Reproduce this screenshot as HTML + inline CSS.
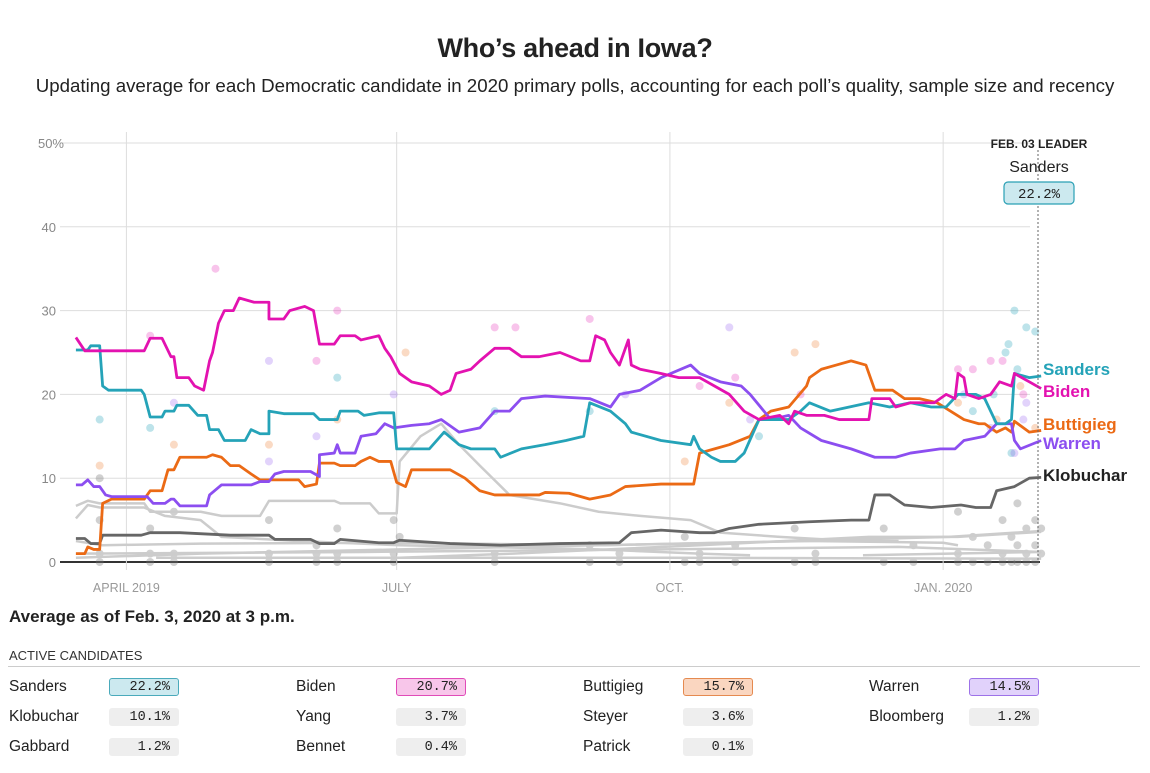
<!DOCTYPE html>
<html><head><meta charset="utf-8"><style>
body{margin:0;background:#fff;width:1150px;height:773px;overflow:hidden;font-family:"Liberation Sans",sans-serif;color:#222;position:relative}
.t{position:absolute;white-space:nowrap}
.box{position:absolute;width:70px;height:18px;border-radius:3px;background:#eee;font-family:"Liberation Mono",monospace;font-size:13.5px;text-align:right;line-height:18px;box-sizing:border-box;padding-right:8px;border:1px solid #eee}
.nm{position:absolute;font-size:15.5px}
</style></head><body>
<div class="t" style="left:0;width:1150px;text-align:center;top:33px;font-size:27px;font-weight:bold;letter-spacing:-0.3px">Who’s ahead in Iowa?</div>
<div class="t" style="left:0;width:1150px;text-align:center;top:75px;font-size:18.7px">Updating average for each Democratic candidate in 2020 primary polls, accounting for each poll’s quality, sample size and recency</div>
<svg id="chart" width="1150" height="600" style="position:absolute;left:0;top:0"></svg>
<div class="t" style="left:9px;top:607px;font-size:17px;font-weight:bold">Average as of Feb. 3, 2020 at 3 p.m.</div>
<div class="t" style="left:9px;top:648px;font-size:13px;color:#333">ACTIVE CANDIDATES</div>
<div style="position:absolute;left:8px;top:666px;width:1132px;height:1px;background:#ccc"></div>
<div id="tbl"></div>
<script>
const candNames=["Sanders","Biden","Buttigieg","Warren","Klobuchar","Yang","Steyer","Bloomberg","Gabbard","Bennet","Patrick"];
const candValues=["22.2%","20.7%","15.7%","14.5%","10.1%","3.7%","3.6%","1.2%","1.2%","0.4%","0.1%"];
const yTicks=[0,10,20,30,40,50];
const xTickDays=[20,111,203,295];
const xTickLabels=["APRIL 2019","JULY","OCT.","JAN. 2020"];
const sandersData=[[3,25.3],[7,25.3],[8,25.8],[11,25.8],[12,21],[14,20.5],[25,20.5],[26,20],[28,17.3],[32,17.3],[33,18],[36,18],[37,18.7],[41,18.7],[44,17.5],[47,17.5],[48,15.8],[51,15.8],[53,14.5],[60,14.5],[62,15.8],[65,15.3],[68,15.3],[68,18],[73,17.7],[83,17.7],[85,17],[91,17],[92,18],[98,18],[100,17.5],[105,17.8],[110,17.8],[111,13.5],[122,13.5],[127,15.5],[132,14],[136,13.5],[144,13.5],[146,12.5],[153,13.5],[161,14],[168,14.5],[174,15],[176,19],[183,18],[188,16.5],[190,15.5],[200,14.5],[210,14],[211,15],[213,13.5],[217,12.5],[220,12],[225,12],[228,13],[233,17],[243,17],[247,18],[250,19],[257,18],[270,19],[277,18.5],[284,19],[291,18.5],[296,18.5],[300,20],[306,20],[309,19.5],[313,16.5],[316,16.5],[318,17],[319,22.5],[324,22],[328,22.2]];
const bidenData=[[3,26.8],[6,25.2],[26,25.2],[28,26.7],[32,26.7],[35,24.5],[36,24.5],[37,22],[41,22],[43,21],[46,20.5],[48,24],[49,25],[51,28.5],[53,30],[56,30],[58,31.5],[63,31],[68,31],[68,29],[73,29],[75,30],[80,30.5],[83,30],[85,26],[90,26],[92,27],[97,27],[99,26.5],[105,27],[107,25.5],[109,24.5],[112,22.5],[116,21.5],[122,21],[126,20],[129,20.5],[131,22.5],[136,23],[139,24],[144,25.5],[149,25.5],[153,24.5],[159,24.5],[166,25],[173,24],[176,24],[178,27],[181,26.5],[183,25],[186,23.5],[189,26.5],[190,23.5],[193,23],[200,22.5],[206,22],[213,22],[218,21],[223,20],[228,18],[233,17],[240,17.5],[243,16.5],[245,18],[249,17.5],[255,17.5],[260,17],[270,17],[271,19.5],[277,19.5],[279,18.5],[284,19],[292,19],[296,20],[299,19.5],[300,22.5],[302,22],[303,20],[307,19.5],[311,20],[314,21.5],[318,21],[319,22.5],[324,21.5],[328,20.7]];
const buttigiegData=[[3,1],[6,1],[7,1.8],[9,1.5],[11,1.5],[12,7],[15,7.5],[26,7.5],[28,8.5],[32,8.5],[34,11],[36,11],[38,12.5],[47,12.5],[49,12.8],[52,12.5],[55,11.5],[58,11.5],[62,10.5],[65,9.8],[78,9.8],[80,9],[84,9.3],[85,11.8],[90,11.8],[92,11.5],[97,11.5],[99,12],[102,12.5],[105,12],[109,12],[111,9.5],[114,9],[116,11],[129,11],[134,10],[139,8.5],[144,8],[159,8],[161,8.3],[169,8.2],[176,7.5],[183,8],[188,9],[200,9.3],[211,9.3],[213,13],[218,13.5],[223,14],[230,15],[233,17],[237,18],[243,18.5],[249,21],[250,22],[254,23],[259,23.5],[264,24],[269,23.5],[272,20.5],[278,20.5],[282,19.5],[287,19.5],[293,19],[302,17],[307,16.5],[309,16.5],[313,15.5],[316,16],[318,15.5],[319,16.8],[324,15.5],[328,15.7]];
const warrenData=[[3,9.2],[5,9.2],[7,9.8],[9,9],[11,9],[13,8],[15,7.8],[27,7.8],[29,7],[33,7],[35,7.5],[36,7.5],[38,6.7],[47,6.7],[48,8],[52,9.2],[62,9.2],[65,9.6],[68,9.6],[70,10.5],[73,10.8],[82,10.8],[85,10.2],[85,12.8],[90,13],[91,14],[92,13],[97,13],[99,15],[104,15.3],[107,16.5],[110,16],[116,16.3],[122,16.5],[126,17],[132,15.5],[139,16],[144,18],[149,18],[153,19.5],[161,19.8],[176,19.5],[183,18.5],[186,20],[193,20.5],[200,22],[210,23.5],[213,22.5],[220,21.5],[227,21],[230,20],[237,17],[243,17.5],[247,16],[254,14.5],[264,13.5],[272,12.5],[279,12.5],[284,13],[294,13.5],[299,13.5],[302,14.5],[309,15],[313,16.5],[318,16.5],[319,14.5],[321,13.5],[328,14.5]];
const klobucharData=[[3,2.8],[6,2.8],[8,2.2],[11,2.2],[12,3.2],[25,3.2],[28,3.5],[38,3.5],[55,3.2],[68,3.2],[70,2.7],[82,2.7],[85,2.2],[90,2.2],[92,2.7],[105,2.3],[110,2.3],[112,2.6],[129,2.2],[146,2],[166,2.2],[186,2.3],[190,3.5],[200,3.8],[213,3.5],[218,3.5],[223,4],[233,4.5],[250,4.8],[264,5],[270,5],[272,8],[277,8],[282,6.8],[291,6.5],[301,6.8],[306,6.5],[311,6.5],[313,8.5],[319,9],[324,10],[328,10.1]];
const harrisData=[[3,6.7],[7,7.3],[11,7],[26,7],[28,6],[45,6],[52,5.5],[65,5.5],[68,7.3],[90,7.3],[92,7],[102,7],[105,5.8],[111,5.8],[112,12],[119,15],[126,16.5],[132,14],[139,11.5],[149,8],[166,7],[179,6],[193,5.5],[210,5],[220,3.5],[240,3],[265,2.5],[280,2.5]];
const orourkeData=[[3,5.2],[7,6.8],[11,6.5],[26,6.5],[33,5.5],[45,5],[52,3],[78,2.5],[112,2],[179,1.5],[213,1],[230,0.8]];
const bookerData=[[3,2.5],[12,2],[45,2.2],[112,2.3],[180,2],[250,2.5],[295,2.3],[300,2]];
const yangData=[[3,0.5],[45,1],[112,1.5],[179,2],[247,2.5],[297,3],[328,3.7]];
const steyerData=[[112,0.5],[150,1],[213,2],[270,3],[300,3],[328,3.6]];
const gabbardData=[[3,1],[100,1.2],[200,1.5],[280,1.8],[328,1.2]];
const bennetData=[[30,0.5],[200,0.5],[328,0.4]];
const bloombergData=[[268,0.8],[328,1.2]];
const sandersPolls=[[11,17],[28,16],[91,22],[144,18],[176,18],[233,15],[319,30],[323,28],[326,27.5],[316,25],[317,26],[305,18],[312,20],[320,23],[318,13]];
const bidenPolls=[[50,35],[28,27],[91,30],[84,24],[176,29],[144,28],[151,28],[213,21],[225,22],[247,20],[311,24],[305,23],[300,23],[315,24],[322,20]];
const buttigiegPolls=[[11,11.5],[36,14],[68,14],[91,17],[114,25],[245,25],[252,26],[223,19],[208,12],[300,19],[313,17],[321,21],[326,16]];
const warrenPolls=[[36,19],[68,12],[68,24],[84,15],[110,20],[223,28],[188,20],[230,17],[302,20],[311,16],[319,13],[322,17],[323,19]];
const otherPolls=[[11,0],[11,1],[11,5],[11,10],[28,0],[28,1],[28,4],[36,0],[36,1],[36,6],[68,0],[68,1],[68,5],[84,0],[84,1],[84,2],[91,0],[91,1],[91,4],[110,0],[110,1],[110,5],[112,3],[144,0],[144,1],[176,0],[176,2],[186,0],[186,1],[208,0],[208,3],[213,0],[213,1],[225,0],[225,2],[245,0],[245,4],[252,0],[252,1],[275,0],[275,4],[285,0],[285,2],[300,0],[300,1],[300,6],[305,0],[305,3],[310,0],[310,2],[315,0],[315,1],[315,5],[318,0],[318,3],[320,0],[320,2],[320,7],[323,0],[323,1],[323,4],[326,0],[326,2],[326,5],[328,1],[328,4]];

const NS="http://www.w3.org/2000/svg";
const svg=document.getElementById('chart');
const X=d=>67+d*2.97;
const Y=v=>562-v*8.38;
function mk(tag,attrs){const e=document.createElementNS(NS,tag);for(const k in attrs)e.setAttribute(k,attrs[k]);svg.appendChild(e);return e;}
yTicks.forEach(v=>{
  const g=mk('line',{x1:60,x2:v===0?1040:1030,y1:Y(v),y2:Y(v),stroke:v===0?'#333':'#ddd','stroke-width':v===0?2:1});
  
  
  const t=mk('text',{x:v===50?64:56,y:Y(v)+5,'text-anchor':'end','font-size':13,fill:'#888','font-family':'Liberation Sans Narrow, Liberation Sans, sans-serif'});
  t.textContent=v===50?'50%':String(v);
  
  
});
xTickDays.forEach((d,i)=>{
  const g=mk('line',{x1:X(d),x2:X(d),y1:132,y2:570,stroke:'#ddd','stroke-width':1});
  
  
  const t=mk('text',{x:X(d),y:592,'text-anchor':'middle','font-size':12.5,fill:'#999','font-family':'Liberation Sans Narrow, Liberation Sans, sans-serif'});
  t.textContent=xTickLabels[i];
  
  
});
function dots(arr,col,op){arr.forEach(p=>{const c=mk('circle',{cx:X(p[0]),cy:Y(p[1]),r:4,fill:col,opacity:op});
  
  });}
dots(otherPolls,'#777',0.35);
dots(sandersPolls,'#25a3b8',0.3);
dots(bidenPolls,'#e312b0',0.25);
dots(buttigiegPolls,'#eb6a15',0.25);
dots(warrenPolls,'#8c4ef0',0.25);
function line(arr,col,w,name){const l=mk('polyline',{points:arr.map(p=>X(p[0])+','+Y(p[1])).join(' '),fill:'none',stroke:col,'stroke-width':w,'stroke-linejoin':'round'});
  
  }
[[harrisData,'harris-line'],[orourkeData,'orourke-line'],[bookerData,'booker-line'],[yangData,'yang-line'],[steyerData,'steyer-line'],[gabbardData,'gabbard-line'],[bennetData,'bennet-line'],[bloombergData,'bloomberg-line']].forEach(s=>line(s[0],'#ccc',2.5,s[1]));
line(klobucharData,'#666',2.8,'klobuchar-line');
line(buttigiegData,'#eb6a15',2.8,'buttigieg-line');
line(warrenData,'#8c4ef0',2.8,'warren-line');
line(sandersData,'#25a3b8',2.8,'sanders-line');
line(bidenData,'#e312b0',2.8,'biden-line');
const dl=mk('line',{x1:1038,x2:1038,y1:150,y2:562,stroke:'#666','stroke-dasharray':'2,2','stroke-width':1});


const endLabels=[["Sanders",369,'#25a3b8'],["Biden",391,'#e312b0'],["Buttigieg",424,'#eb6a15'],["Warren",443,'#8c4ef0'],["Klobuchar",475,'#222']];
endLabels.forEach(e=>{const t=mk('text',{x:1043,y:e[1]+6,'font-size':17,'font-weight':'bold',fill:e[2]});t.textContent=e[0];
  
  });
const l1=mk('text',{x:1039,y:148,'text-anchor':'middle','font-size':12,'font-weight':'bold',fill:'#222'});l1.textContent='FEB. 03 LEADER';


const l2=mk('text',{x:1039,y:172,'text-anchor':'middle','font-size':16,fill:'#222'});l2.textContent='Sanders';


const lb=mk('rect',{x:1004,y:182,width:70,height:22,rx:4,fill:'#cce9ef',stroke:'#2aa0b5','stroke-width':1.2});


const l3=mk('text',{x:1039,y:198,'text-anchor':'middle','font-size':14,'font-family':'Liberation Mono, monospace',fill:'#222'});l3.textContent=candValues[0];



const tbl=document.getElementById('tbl');
const colX=[8,295,582,868];const rowY=[678,708,738];
const styles={0:['#cce9ef','#4aaabb'],1:['#f8c6ea','#e04bb8'],2:['#fad6c0','#e58a50'],3:['#e1d2fb','#9d72e8']};
candNames.forEach((n,i)=>{
  const c=i%4,r=Math.floor(i/4);
  const d=document.createElement('div');d.className='nm';d.style.left=(colX[c]+1)+'px';d.style.top=(rowY[r]+0)+'px';d.textContent=n;
  
  
  tbl.appendChild(d);
  const b=document.createElement('div');b.className='box';b.style.left=(colX[c]+101)+'px';b.style.top=rowY[r]+'px';b.textContent=candValues[i];
  if(styles[i]){b.style.background=styles[i][0];b.style.borderColor=styles[i][1];}
  
  
  tbl.appendChild(b);
});
</script>
</body></html>
